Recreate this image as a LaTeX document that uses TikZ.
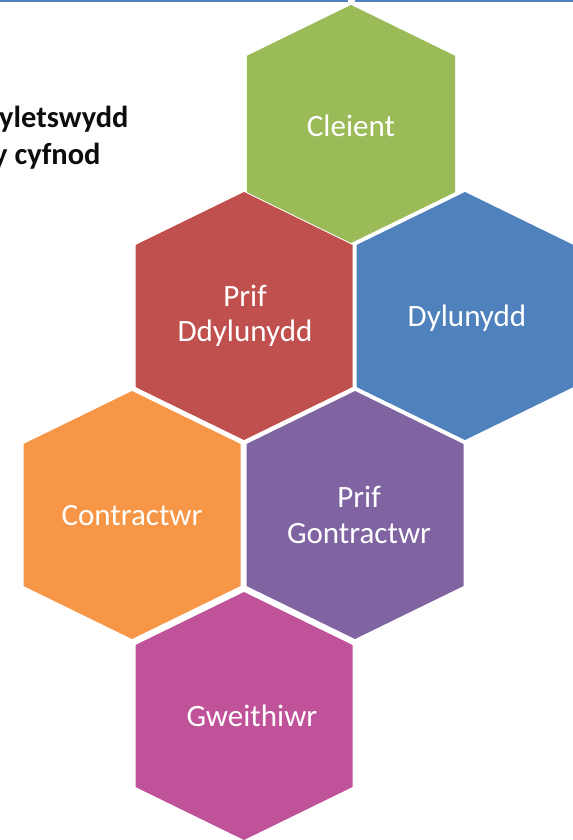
\documentclass[tikz,border=0pt]{standalone}
\usepackage{fontspec}
\setmainfont{Carlito}
\usepackage{tikz}
\usetikzlibrary{positioning, calc}
\definecolor{hex_green}{HTML}{9BBB59}
\definecolor{hex_red}{HTML}{C0504D}
\definecolor{hex_blue}{HTML}{4F81BD}
\definecolor{hex_orange}{HTML}{F79646}
\definecolor{hex_purple}{HTML}{8064A2}
\definecolor{hex_pink}{HTML}{C0529A}
\definecolor{rule_blue}{HTML}{4F81BD}
\tikzset{
  pics/hexcell/.style={code={
    \fill (0,-124) -- (108.5,-71) -- (108.5,71) -- (0,124) -- (-108.5,71) -- (-108.5,-71) -- cycle;}},
  hexlabel/.style={text=white,align=center,inner sep=0,font=\fontsize{26.5}{30}\selectfont},
  roletitle/.style={anchor=base west,inner sep=0,font=\fontsize{26}{31}\selectfont\bfseries,text=black!95},
  toprule/.style={draw=rule_blue,line width=1.7},
}
\begin{document}
\begin{tikzpicture}[x=0.03cm,y=-0.03cm]
	\useasboundingbox (0,0) rectangle (573,840);
	\clip (0,0) rectangle (573,840);
	\draw[toprule] (0,1) -- (348,1) (355,1) -- (573,1);
	% hexagons
	\pic[fill=hex_green,scale=0.96] at (351,124) {hexcell};
	\pic[fill=hex_red] at (244,316) {hexcell};
	\pic[fill=hex_blue] at (465,316) {hexcell};
	\pic[fill=hex_orange] at (132,515) {hexcell};
	\pic[fill=hex_purple] at (355,515) {hexcell};
	\pic[fill=hex_pink] at (244,716) {hexcell};
	% labels
	\node[hexlabel] (cleient) at (351,126) {Cleient};
	\node[hexlabel] (prifdd) at (245,316) {Prif\\Ddylunydd};
	\node[hexlabel] (dylunydd) at (467,318) {Dylunydd};
	\node[hexlabel] (contractwr) at (132,516) {Contractwr};
	\node[hexlabel] (prifgon) at (359,515) {Prif\\Gontractwr};
	\node[hexlabel] (gweithiwr) at (252,716) {Gweithiwr};
	% title, cut at the left edge
	\node[roletitle] (title1) at (-1,127) {yletswydd};
	\node[roletitle] (title2) at (-7,164) {y cyfnod};
\end{tikzpicture}
\end{document}
